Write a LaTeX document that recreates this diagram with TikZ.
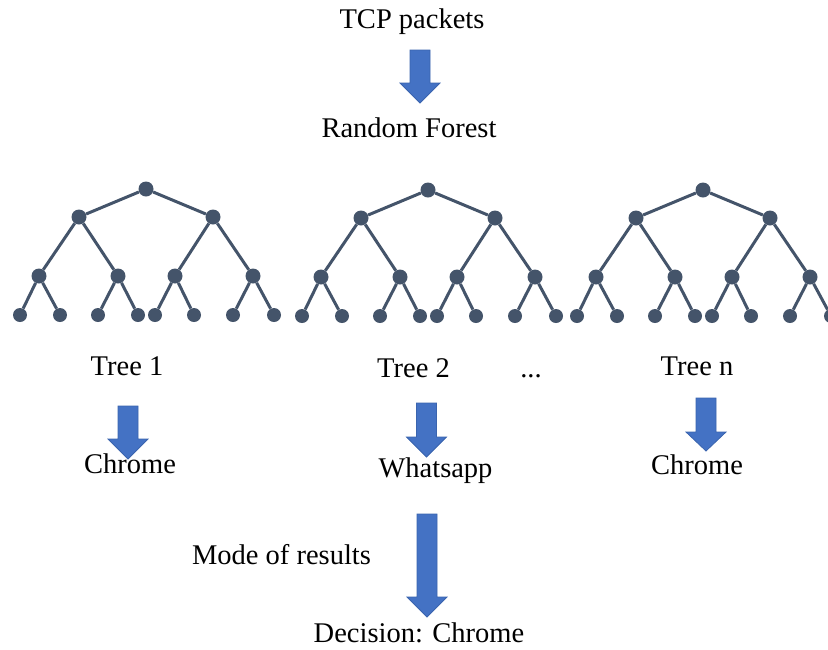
\documentclass[tikz,border=0pt]{standalone}
\usepackage{fontspec}
\setmainfont{Liberation Serif}
\definecolor{treecol}{HTML}{44546A}
\definecolor{arrfill}{HTML}{4472C4}
\definecolor{arrline}{HTML}{3A64AE}
\tikzset{
  dot/.style={circle,fill=treecol,inner sep=0pt,minimum size=15pt},
  leaf/.style={circle,fill=treecol,inner sep=0pt,minimum size=14pt},
  branch/.style={draw=treecol,line width=3pt},
  lbl/.style={anchor=base,inner sep=0pt,font=\fontsize{28.5}{34}\selectfont},
  blockarrow/.style={fill=arrfill,draw=arrline,line width=0.8pt,line join=miter},
  pics/rtree/.style={code={
    \node[dot] (-r) at (0,0) {};
    \node[dot] (-a) at (-67,28) {};
    \node[dot] (-b) at (67,28) {};
    \node[dot] (-aa) at (-107,87) {};
    \node[dot] (-ab) at (-28,87) {};
    \node[dot] (-ba) at (29,87) {};
    \node[dot] (-bb) at (107,87) {};
    \node[leaf] (-l1) at (-126,126) {};
    \node[leaf] (-l2) at (-86,126) {};
    \node[leaf] (-l3) at (-48,126) {};
    \node[leaf] (-l4) at (-8,126) {};
    \node[leaf] (-l5) at (9,126) {};
    \node[leaf] (-l6) at (48,126) {};
    \node[leaf] (-l7) at (87,126) {};
    \node[leaf] (-l8) at (128,126) {};
    \draw[branch] (-r) -- (-a);
    \draw[branch] (-r) -- (-b);
    \draw[branch] (-a) -- (-aa);
    \draw[branch] (-a) -- (-ab);
    \draw[branch] (-b) -- (-ba);
    \draw[branch] (-b) -- (-bb);
    \draw[branch] (-aa) -- (-l1);
    \draw[branch] (-aa) -- (-l2);
    \draw[branch] (-ab) -- (-l3);
    \draw[branch] (-ab) -- (-l4);
    \draw[branch] (-ba) -- (-l5);
    \draw[branch] (-ba) -- (-l6);
    \draw[branch] (-bb) -- (-l7);
    \draw[branch] (-bb) -- (-l8);
  }}
}
% block arrow: centre x, top y, head start y, tip y
\newcommand{\blkarrow}[4]{%
  \fill[blockarrow] (#1-10,#2) -- (#1+10,#2) -- (#1+10,#3) -- (#1+20,#3)
     -- (#1,#4) -- (#1-20,#3) -- (#1-10,#3) -- cycle;}
\begin{document}
\begin{tikzpicture}[x=1pt,y=-1pt]
\useasboundingbox (0,0) rectangle (828,649);
% arrows
\blkarrow{420}{50}{83}{103}
\blkarrow{128}{406}{439}{459}
\blkarrow{426.5}{403}{437}{457}
\blkarrow{706}{398}{432}{451}
\blkarrow{427}{514}{597}{617}
% trees
\pic (t1) at (146,189) {rtree};
\pic (t2) at (428,190) {rtree};
\pic (t3) at (703,190) {rtree};
% labels
\node[lbl] (tcp) at (412,28) {TCP packets};
\node[lbl] (rf) at (409,137) {Random Forest};
\node[lbl] (tr1) at (127,375) {Tree 1};
\node[lbl] (tr2) at (413.5,377) {Tree 2};
\node[lbl] (dots) at (531,377) {...};
\node[lbl] (trn) at (697,375) {Tree n};
\node[lbl] (c1) at (130,473) {Chrome};
\node[lbl] (w2) at (435.5,477) {Whatsapp};
\node[lbl] (c3) at (697,474) {Chrome};
\node[lbl] (mode) at (281.5,564) {Mode of results};
\node[lbl] (dec) at (419,642) {Decision: Chrome};
\end{tikzpicture}
\end{document}
